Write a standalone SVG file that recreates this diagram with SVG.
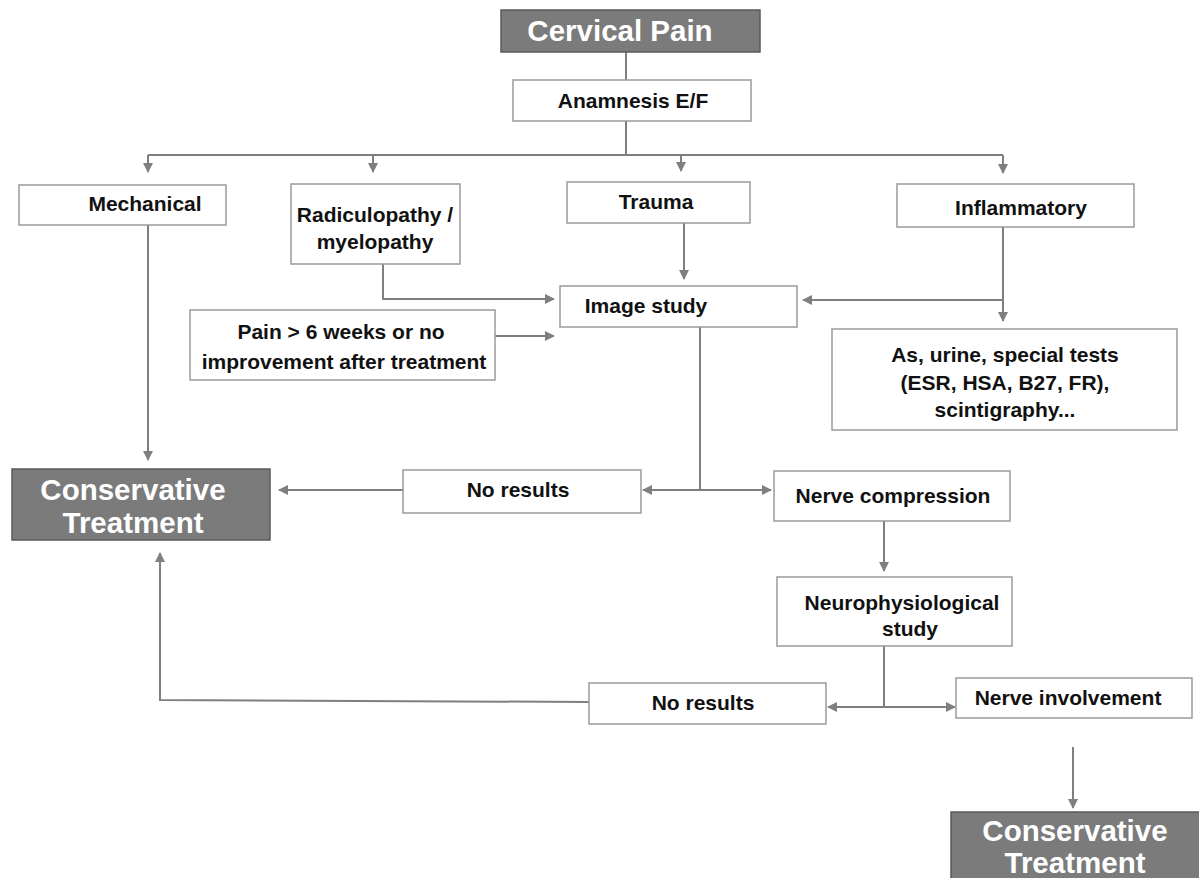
<svg xmlns="http://www.w3.org/2000/svg" width="1199" height="878" viewBox="0 0 1199 878">
<style>
.box{fill:#fff;stroke:#9a9a9a;stroke-width:1.5}
.dark{fill:#7b7b7b;stroke:#5a5a5a;stroke-width:1.5}
.t{font-family:"Liberation Sans",Arial,sans-serif;font-weight:bold;font-size:21px;fill:#111;text-anchor:middle}
.tw{font-family:"Liberation Sans",Arial,sans-serif;font-weight:bold;font-size:29.5px;fill:#fff;text-anchor:middle}
.c{fill:none;stroke:#7f7f7f;stroke-width:2}
.a{marker-end:url(#ah)}
</style>
<defs>
<marker id="ah" markerUnits="userSpaceOnUse" markerWidth="10" markerHeight="10" refX="9" refY="5" orient="auto">
<path d="M0,0 L10,5 L0,10 z" fill="#7f7f7f"/>
</marker>
</defs>
<rect width="1199" height="878" fill="#fff"/>
<g id="connectors">
<path class="c" d="M626,52 V80"/>
<path class="c" d="M626,121 V155"/>
<path class="c" d="M148,155 H1003"/>
<path class="c a" d="M148,155 V172"/>
<path class="c a" d="M373,155 V172"/>
<path class="c a" d="M681,155 V171"/>
<path class="c a" d="M1003,155 V173"/>
<path class="c a" d="M148,225 V460"/>
<path class="c a" d="M383,264 V299 H554"/>
<path class="c a" d="M495,336 H554"/>
<path class="c a" d="M684,223 V279"/>
<path class="c a" d="M1003,227 V300 H803"/>
<path class="c a" d="M1003,300 V321"/>
<path class="c" d="M700,327 V490"/>
<path class="c a" d="M700,490 H643"/>
<path class="c a" d="M700,490 H771"/>
<path class="c a" d="M403,490 H279"/>
<path class="c a" d="M884,521 V571"/>
<path class="c" d="M884,646 V707"/>
<path class="c a" d="M884,707 H828"/>
<path class="c a" d="M884,707 H955"/>
<path class="c a" d="M589,702 L160,700 V553"/>
<path class="c a" d="M1073,747 V808"/>
</g>
<g id="cervical-pain">
<rect class="dark" x="501" y="10" width="259" height="42"/>
<text class="tw" x="620" y="41">Cervical Pain</text>
</g>
<g id="anamnesis">
<rect class="box" x="513" y="80" width="238" height="41"/>
<text class="t" x="633" y="108">Anamnesis E/F</text>
</g>
<g id="mechanical">
<rect class="box" x="19" y="185" width="207" height="40"/>
<text class="t" x="145" y="211">Mechanical</text>
</g>
<g id="radiculopathy">
<rect class="box" x="291" y="184" width="169" height="80"/>
<text class="t" x="375" y="222">Radiculopathy /</text>
<text class="t" x="375" y="249">myelopathy</text>
</g>
<g id="trauma">
<rect class="box" x="567" y="182" width="183" height="41"/>
<text class="t" x="656" y="209">Trauma</text>
</g>
<g id="inflammatory">
<rect class="box" x="897" y="184" width="237" height="43"/>
<text class="t" x="1021" y="215">Inflammatory</text>
</g>
<g id="image-study">
<rect class="box" x="560" y="286" width="237" height="41"/>
<text class="t" x="646" y="313">Image study</text>
</g>
<g id="pain-6-weeks">
<rect class="box" x="190" y="310" width="305" height="70"/>
<text class="t" x="341" y="339">Pain &gt; 6 weeks or no</text>
<text class="t" x="344" y="369">improvement after treatment</text>
</g>
<g id="tests">
<rect class="box" x="832" y="329" width="345" height="101"/>
<text class="t" x="1005" y="362">As, urine, special tests</text>
<text class="t" x="1005" y="390">(ESR, HSA, B27, FR),</text>
<text class="t" x="1005" y="417">scintigraphy...</text>
</g>
<g id="conservative-1">
<rect class="dark" x="12" y="469" width="258" height="71"/>
<text class="tw" x="133" y="500">Conservative</text>
<text class="tw" x="133" y="533">Treatment</text>
</g>
<g id="no-results-1">
<rect class="box" x="403" y="470" width="238" height="43"/>
<text class="t" x="518" y="497">No results</text>
</g>
<g id="nerve-compression">
<rect class="box" x="774" y="471" width="236" height="50"/>
<text class="t" x="893" y="503">Nerve compression</text>
</g>
<g id="neurophysiological">
<rect class="box" x="777" y="577" width="235" height="69"/>
<text class="t" x="902" y="610">Neurophysiological</text>
<text class="t" x="910" y="636">study</text>
</g>
<g id="no-results-2">
<rect class="box" x="589" y="683" width="237" height="41"/>
<text class="t" x="703" y="710">No results</text>
</g>
<g id="nerve-involvement">
<rect class="box" x="956" y="678" width="236" height="40"/>
<text class="t" x="1068" y="705">Nerve involvement</text>
</g>
<g id="conservative-2">
<rect class="dark" x="951" y="812" width="250" height="70"/>
<text class="tw" x="1075" y="841">Conservative</text>
<text class="tw" x="1075" y="873">Treatment</text>
</g>
</svg>
